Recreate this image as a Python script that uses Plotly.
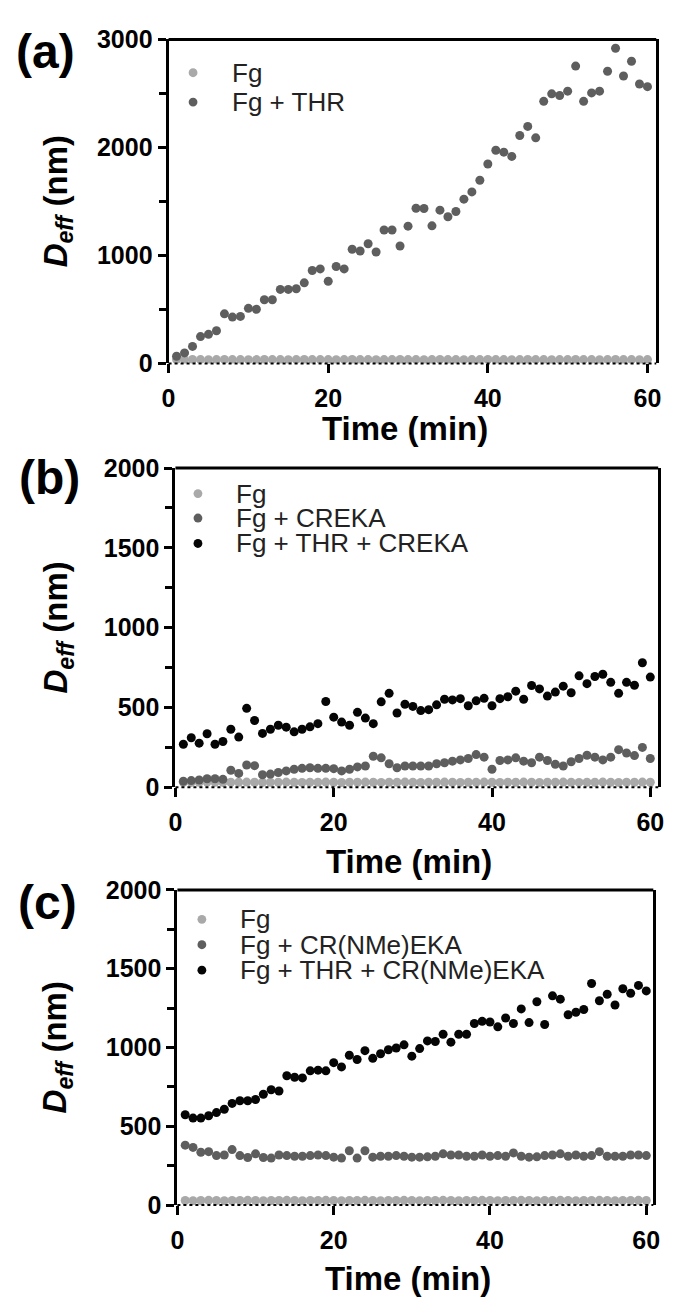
import plotly.graph_objects as go

# ---------------- data ----------------
time_min = list(range(1, 61))

a_fg = [35, 35, 36, 35, 34, 35, 36, 35, 35, 34, 35, 36, 35, 35, 34, 35, 36, 35, 35, 35,
        34, 35, 36, 35, 35, 34, 35, 35, 36, 35, 35, 34, 35, 36, 35, 35, 34, 35, 35, 36,
        35, 35, 34, 35, 36, 35, 35, 34, 35, 35, 36, 35, 35, 34, 35, 36, 35, 35, 34, 35]
a_fg_thr = [66, 97, 157, 248, 269, 302, 459, 429, 435, 510, 501, 589, 589, 685, 685, 691, 746, 860, 875, 761,
            897, 875, 1057, 1041, 1108, 1032, 1235, 1235, 1087, 1271, 1437, 1434, 1274, 1419, 1358, 1407, 1521, 1588, 1696, 1847,
            1974, 1956, 1917, 2110, 2195, 2089, 2427, 2496, 2481, 2521, 2753, 2427, 2505, 2521, 2705, 2919, 2662, 2798, 2587, 2563]

b_fg = [31, 30, 31, 32, 31, 30, 31, 31, 32, 31, 30, 31, 31, 32, 31, 30, 31, 31, 32, 31,
        30, 31, 31, 32, 31, 30, 31, 31, 32, 31, 30, 31, 31, 32, 31, 30, 31, 31, 32, 31,
        30, 31, 31, 32, 31, 30, 31, 31, 32, 31, 30, 31, 31, 32, 31, 30, 31, 31, 32, 31]
b_fg_creka = [37, 41, 45, 53, 53, 49, 106, 86, 139, 135, 78, 82, 92, 102, 112, 118, 122, 118, 118, 116,
              102, 112, 127, 133, 194, 184, 147, 122, 133, 133, 133, 133, 147, 153, 163, 171, 180, 204, 188, 112,
              167, 171, 184, 163, 153, 188, 167, 143, 133, 159, 180, 200, 188, 171, 188, 235, 214, 198, 249, 180]
b_fg_thr_creka = [269, 310, 276, 335, 269, 286, 363, 314, 494, 418, 337, 363, 388, 376, 347, 363, 378, 398, 537, 439,
                  408, 388, 469, 433, 398, 535, 588, 465, 520, 506, 480, 486, 516, 551, 547, 555, 510, 541, 557, 510,
                  555, 567, 602, 551, 637, 616, 571, 596, 633, 592, 698, 649, 694, 708, 657, 588, 657, 639, 780, 690]

c_fg = [29, 28, 29, 30, 29, 28, 29, 29, 30, 29, 28, 29, 29, 30, 29, 28, 29, 29, 30, 29,
        28, 29, 29, 30, 29, 28, 29, 29, 30, 29, 28, 29, 29, 30, 29, 28, 29, 29, 30, 29,
        28, 29, 29, 30, 29, 28, 29, 29, 30, 29, 28, 29, 29, 30, 29, 28, 29, 29, 30, 29]
c_fg_nme = [380, 366, 335, 339, 314, 318, 352, 314, 302, 325, 302, 298, 318, 314, 310, 310, 314, 318, 314, 304,
            298, 345, 298, 345, 304, 310, 310, 314, 310, 304, 304, 306, 310, 325, 318, 318, 310, 310, 318, 310,
            314, 310, 331, 310, 304, 306, 314, 318, 325, 310, 318, 310, 314, 339, 310, 310, 310, 318, 318, 314]
c_fg_thr_nme = [573, 552, 552, 567, 587, 608, 645, 662, 662, 670, 703, 732, 724, 821, 811, 807, 852, 856, 852, 904,
                877, 951, 924, 980, 931, 960, 986, 997, 1017, 945, 993, 1042, 1038, 1084, 1034, 1084, 1084, 1152, 1166, 1162,
                1131, 1187, 1152, 1245, 1158, 1290, 1146, 1328, 1307, 1208, 1224, 1241, 1406, 1297, 1338, 1270, 1373, 1344, 1394, 1359]

panel_labels = ["(a)", "(b)", "(c)"]
legend_a = ["Fg", "Fg + THR"]
legend_b = ["Fg", "Fg + CREKA", "Fg + THR + CREKA"]
legend_c = ["Fg", "Fg + CR(NMe)EKA", "Fg + THR + CR(NMe)EKA"]
x_tickvals = [0, 20, 40, 60]
y_ticks_a = [0, 1000, 2000, 3000]
y_ticks_bc = [0, 500, 1000, 1500, 2000]

# ---------------- style ----------------
W, H = 675, 1314
LIGHT = "#a9a9a9"
MID = "#5e5e5e"
DARK = "#050505"
FONT = "Liberation Sans, Arial, sans-serif"
MS = 9

def px_x(p):
    return p / W

def px_y(p):
    return 1 - p / H

# panel geometry (pixels): left, right, top, bottom, xmax
geo = [
    dict(l=165, r=663, t=26, b=357, xmax=61.1, ymax=3000),
    dict(l=172, r=665, t=464, b=790, xmax=61.0, ymax=2000),
    dict(l=174, r=660, t=895, b=1217, xmax=60.9, ymax=2000),
]

fig = go.Figure()

series = [
    [(legend_a[0], a_fg, LIGHT), (legend_a[1], a_fg_thr, MID)],
    [(legend_b[0], b_fg, LIGHT), (legend_b[1], b_fg_creka, MID), (legend_b[2], b_fg_thr_creka, DARK)],
    [(legend_c[0], c_fg, LIGHT), (legend_c[1], c_fg_nme, MID), (legend_c[2], c_fg_thr_nme, DARK)],
]

for i, group in enumerate(series):
    sfx = "" if i == 0 else str(i + 1)
    for name, vals, col in group:
        fig.add_trace(go.Scatter(
            x=time_min, y=vals, name=name, mode="markers",
            marker=dict(size=MS, color=col, line=dict(width=0)),
            xaxis="x" + sfx, yaxis="y" + sfx, showlegend=False,
        ))

layout = dict(
    width=W, height=H, margin=dict(l=0, r=0, t=0, b=0),
    paper_bgcolor="white", plot_bgcolor="white", showlegend=False,
)

tickfont = dict(family=FONT, size=25, color="black", weight="bold")

for i, g in enumerate(geo):
    sfx = "" if i == 0 else str(i + 1)
    layout["xaxis" + sfx] = dict(
        domain=[px_x(g["l"]), px_x(g["r"])], anchor="y" + sfx,
        range=[0, g["xmax"]], tickvals=x_tickvals, ticks="outside",
        ticklen=9, tickwidth=3, tickcolor="black", showline=False,
        showgrid=False, zeroline=False, tickfont=tickfont, ticklabelstandoff=4,
    )
    if i == 0:
        ytv, minor_dt = y_ticks_a, 500
    else:
        ytv, minor_dt = y_ticks_bc, 250
    layout["yaxis" + sfx] = dict(
        domain=[px_y(g["b"]), px_y(g["t"])], anchor="x" + sfx,
        range=[0, g["ymax"]], tickvals=ytv, ticks="outside",
        ticklen=8, tickwidth=3, tickcolor="black",
        showline=True, linewidth=3, linecolor="black", mirror=True,
        showgrid=False, zeroline=False, tickfont=tickfont,
        minor=dict(dtick=minor_dt, ticks="outside", ticklen=7, tickwidth=3, tickcolor="black", showgrid=False),
    )

fig.update_layout(**layout)

shapes = []
annotations = []
legends = [legend_a, legend_b, legend_c]
legend_cols = [[LIGHT, MID], [LIGHT, MID, DARK], [LIGHT, MID, DARK]]
legend_pos = [
    dict(mx=190, tx=228, ys=[60, 90]),
    dict(mx=195, tx=232, ys=[490, 515, 541]),
    dict(mx=199, tx=236, ys=[925, 951, 977]),
]
label_pos = [(39, 38), (43, 474), (41, 908)]
xtitle_y = [424, 866, 1292]

for i, g in enumerate(geo):
    sfx = "" if i == 0 else str(i + 1)
    xr = "x" + sfx + " domain"
    yr = "y" + sfx + " domain"
    # top frame
    shapes.append(dict(type="line", xref=xr, yref=yr, x0=0, x1=1, y0=1, y1=1,
                       line=dict(color="black", width=3)))
    # dotted baseline
    shapes.append(dict(type="line", xref=xr, yref=yr, x0=0, x1=1, y0=0, y1=0,
                       line=dict(color="black", width=2, dash="dot")))
    # legend markers and texts
    lp = legend_pos[i]
    for name, col, yy in zip(legends[i], legend_cols[i], lp["ys"]):
        r = MS / 2
        shapes.append(dict(type="circle", xref="paper", yref="paper",
                           x0=px_x(lp["mx"] - r), x1=px_x(lp["mx"] + r),
                           y0=px_y(yy + r), y1=px_y(yy - r),
                           fillcolor=col, line=dict(width=0)))
        annotations.append(dict(text=name, xref="paper", yref="paper",
                                x=px_x(lp["tx"]), y=px_y(yy), xanchor="left", yanchor="middle",
                                showarrow=False,
                                font=dict(family=FONT, size=26, color="#222222")))
    # panel label
    lx, ly = label_pos[i]
    annotations.append(dict(text=panel_labels[i], xref="paper", yref="paper",
                            x=px_x(lx), y=px_y(ly), xanchor="center", yanchor="middle",
                            showarrow=False,
                            font=dict(family=FONT, size=48, color="black", weight="bold")))
    # x title
    annotations.append(dict(text="Time (min)", xref="paper", yref="paper",
                            x=px_x((g["l"] + g["r"]) / 2 - 8), y=px_y(xtitle_y[i]),
                            xanchor="center", yanchor="middle", showarrow=False,
                            font=dict(family=FONT, size=33, color="black", weight="bold")))
    # y title
    annotations.append(dict(text="<i>D</i><sub><i>eff</i></sub> (nm)", xref="paper", yref="paper",
                            x=px_x(52), y=px_y((g["t"] + g["b"]) / 2),
                            xanchor="center", yanchor="middle", textangle=-90, showarrow=False,
                            font=dict(family=FONT, size=33, color="black", weight="bold")))

fig.update_layout(shapes=shapes, annotations=annotations)
fig.write_html("out.html")
